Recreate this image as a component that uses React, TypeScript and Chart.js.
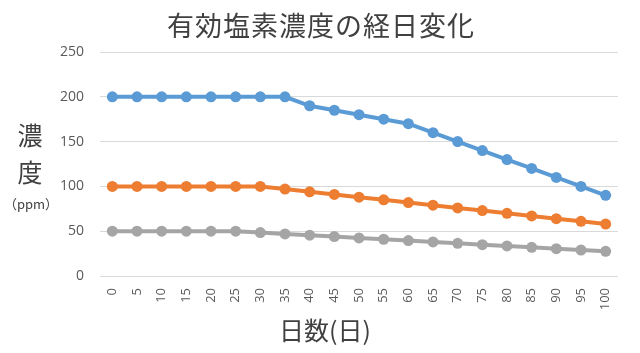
import React, { useEffect, useRef } from "react";
import { Chart, registerables } from "chart.js";

Chart.register(...registerables);

const days = ["0","5","10","15","20","25","30","35","40","45","50","55","60","65","70","75","80","85","90","95","100"];
const seriesBlue = [200,200,200,200,200,200,200,200,190,185,180,175,170,160,150,140,130,120,110,100,90];
const seriesOrange = [100,100,100,100,100,100,100,97,94,91,88,85,82,79,76,73,70,67,64,61,58];
const seriesGray = [50,50,50,50,50,50,48.5,47,45.5,44,42.5,41,39.5,38,36.5,35,33.5,32,30.5,29,27.5];
const titleText = "有効塩素濃度の経日変化";
const yTitleChars = ["濃", "度"];
const yTitleUnit = "（ppm）";
const xTitleText = "日数(日)";

const JP = '"Noto Sans CJK JP", "Noto Sans", sans-serif';

const textPlugin = {
  id: "texts",
  afterDraw(chart: any) {
    const ctx = chart.ctx;
    ctx.save();
    ctx.fillStyle = "#404040";
    ctx.textAlign = "center";
    ctx.textBaseline = "middle";
    ctx.font = `27px ${JP}`;
    (ctx as any).letterSpacing = "1px";
    ctx.fillText(titleText, 321, 26);
    (ctx as any).letterSpacing = "0px";
    ctx.font = `25px ${JP}`;
    ctx.fillText(yTitleChars[0], 30, 135);
    ctx.fillText(yTitleChars[1], 30, 172);
    ctx.font = `13px ${JP}`;
    ctx.fillText(yTitleUnit, 31, 204);
    ctx.font = `25px ${JP}`;
    ctx.fillText(xTitleText, 325, 330);
    ctx.restore();
  },
};

export default function App() {
  const ref = useRef<HTMLCanvasElement>(null);
  useEffect(() => {
    document.body.style.margin = "0";
    const mk = (label: string, data: number[], color: string) => ({
      label,
      data,
      borderColor: color,
      backgroundColor: color,
      borderWidth: 4,
      pointRadius: 5.5,
      pointBorderWidth: 0,
      pointBackgroundColor: color,
      tension: 0,
    });
    const chart = new Chart(ref.current!, {
      type: "line",
      data: {
        labels: days,
        datasets: [
          mk("A", seriesBlue, "#5B9BD5"),
          mk("B", seriesOrange, "#ED7D31"),
          mk("C", seriesGray, "#A5A5A5"),
        ],
      },
      options: {
        animation: false,
        responsive: false,
        maintainAspectRatio: false,
        layout: { padding: { top: 52, right: 22, left: 0, bottom: 0 } },
        plugins: { legend: { display: false }, title: { display: false }, tooltip: { enabled: false } },
        scales: {
          x: {
            offset: true,
            grid: { display: false },
            border: { display: false },
            ticks: {
              color: "#595959",
              font: { family: '"Open Sans", "Noto Sans", sans-serif', size: 13 },
              minRotation: 90,
              maxRotation: 90,
              padding: 4,
              autoSkip: false,
            },
            afterFit(scale: any) { scale.height = 77; },
          },
          y: {
            min: 0,
            max: 250,
            ticks: {
              stepSize: 50,
              color: "#595959",
              font: { family: '"Open Sans", "Noto Sans", sans-serif', size: 14 },
              padding: 16,
            },
            grid: { color: "#D9D9D9", lineWidth: 1, drawTicks: false },
            border: { display: false },
            afterFit(scale: any) { scale.width = 100; },
          },
        },
      },
      plugins: [textPlugin],
    });
    return () => chart.destroy();
  }, []);
  return (
    <div style={{ width: 640, height: 353, position: "relative", background: "#fff" }}>
      <canvas ref={ref} width={640} height={353} />
    </div>
  );
}
